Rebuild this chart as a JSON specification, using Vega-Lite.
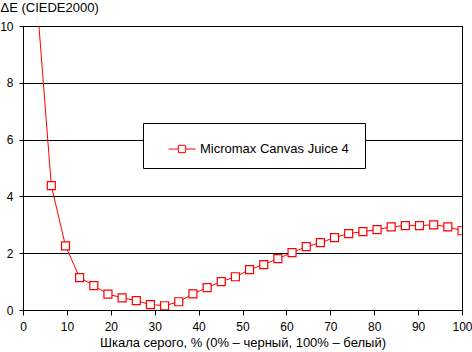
{
  "$schema": "https://vega.github.io/schema/vega-lite/v6.json",
  "width": 439,
  "height": 284,
  "autosize": {"type": "none"},
  "padding": {"left": 23, "top": 26, "right": 10, "bottom": 42},
  "background": "white",
  "config": {
    "font": "Liberation Sans",
    "view": {"stroke": "black", "strokeWidth": 1},
    "axis": {
      "labelFont": "Liberation Sans",
      "labelFontSize": 12,
      "labelColor": "black",
      "titleFont": "Liberation Sans",
      "titleFontSize": 13,
      "titleFontWeight": "normal",
      "titleColor": "black",
      "domainColor": "black",
      "tickColor": "black",
      "gridColor": "black",
      "gridOpacity": 1,
      "domainWidth": 1,
      "tickWidth": 1
    },
    "legend": {
      "orient": "none",
      "legendX": 120,
      "legendY": 97,
      "fillColor": "white",
      "strokeColor": "black",
      "padding": 12,
      "labelFont": "Liberation Sans",
      "labelFontSize": 13,
      "labelColor": "black",
      "labelOffset": 4,
      "symbolOffset": 13,
      "symbolType": "M-1,0H-0.27M0.27,0H1M-0.27,-0.27H0.27V0.27H-0.27Z",
      "symbolSize": 729,
      "symbolStrokeColor": "red",
      "symbolFillColor": "white",
      "symbolStrokeWidth": 1,
      "titleOrient": "right",
      "titlePadding": 4
    }
  },
  "data": {
    "values": [
      {"x": 3.23, "y": 10.8, "s": "Micromax Canvas Juice 4"},
      {"x": 6.45, "y": 4.38, "s": "Micromax Canvas Juice 4"},
      {"x": 9.68, "y": 2.26, "s": "Micromax Canvas Juice 4"},
      {"x": 12.9, "y": 1.14, "s": "Micromax Canvas Juice 4"},
      {"x": 16.13, "y": 0.86, "s": "Micromax Canvas Juice 4"},
      {"x": 19.35, "y": 0.56, "s": "Micromax Canvas Juice 4"},
      {"x": 22.58, "y": 0.43, "s": "Micromax Canvas Juice 4"},
      {"x": 25.81, "y": 0.33, "s": "Micromax Canvas Juice 4"},
      {"x": 29.03, "y": 0.19, "s": "Micromax Canvas Juice 4"},
      {"x": 32.26, "y": 0.15, "s": "Micromax Canvas Juice 4"},
      {"x": 35.48, "y": 0.29, "s": "Micromax Canvas Juice 4"},
      {"x": 38.71, "y": 0.57, "s": "Micromax Canvas Juice 4"},
      {"x": 41.94, "y": 0.79, "s": "Micromax Canvas Juice 4"},
      {"x": 45.16, "y": 1.0, "s": "Micromax Canvas Juice 4"},
      {"x": 48.39, "y": 1.17, "s": "Micromax Canvas Juice 4"},
      {"x": 51.61, "y": 1.42, "s": "Micromax Canvas Juice 4"},
      {"x": 54.84, "y": 1.6, "s": "Micromax Canvas Juice 4"},
      {"x": 58.06, "y": 1.81, "s": "Micromax Canvas Juice 4"},
      {"x": 61.29, "y": 2.02, "s": "Micromax Canvas Juice 4"},
      {"x": 64.52, "y": 2.23, "s": "Micromax Canvas Juice 4"},
      {"x": 67.74, "y": 2.37, "s": "Micromax Canvas Juice 4"},
      {"x": 70.97, "y": 2.55, "s": "Micromax Canvas Juice 4"},
      {"x": 74.19, "y": 2.69, "s": "Micromax Canvas Juice 4"},
      {"x": 77.42, "y": 2.76, "s": "Micromax Canvas Juice 4"},
      {"x": 80.65, "y": 2.83, "s": "Micromax Canvas Juice 4"},
      {"x": 83.87, "y": 2.93, "s": "Micromax Canvas Juice 4"},
      {"x": 87.1, "y": 2.97, "s": "Micromax Canvas Juice 4"},
      {"x": 90.32, "y": 2.97, "s": "Micromax Canvas Juice 4"},
      {"x": 93.55, "y": 3.0, "s": "Micromax Canvas Juice 4"},
      {"x": 96.77, "y": 2.93, "s": "Micromax Canvas Juice 4"},
      {"x": 100, "y": 2.79, "s": "Micromax Canvas Juice 4"}
    ]
  },
  "encoding": {
    "x": {
      "field": "x",
      "type": "quantitative",
      "scale": {"domain": [0, 100], "nice": false, "zero": false},
      "axis": {
        "values": [0, 10, 20, 30, 40, 50, 60, 70, 80, 90, 100],
        "grid": false,
        "tickSize": 5,
        "labelPadding": 6,
        "labelFlush": false,
        "title": "Шкала серого, % (0% – черный, 100% – белый)",
        "titlePadding": 4
      }
    },
    "y": {
      "field": "y",
      "type": "quantitative",
      "scale": {"domain": [0, 10], "nice": false},
      "axis": {
        "values": [0, 2, 4, 6, 8, 10],
        "grid": true,
        "tickSize": 4,
        "labelPadding": 6,
        "labelFlush": false,
        "title": "ΔE (CIEDE2000)",
        "titleAngle": 0,
        "titleAlign": "left",
        "titleBaseline": "top",
        "titleX": -23,
        "titleY": -25
      }
    }
  },
  "layer": [
    {
      "mark": {"type": "line", "clip": true, "strokeWidth": 1},
      "encoding": {
        "color": {
          "field": "s",
          "type": "nominal",
          "scale": {"range": ["red"]},
          "legend": {"title": " "}
        }
      }
    },
    {
      "mark": {"type": "point", "shape": "square", "clip": true, "size": 64, "filled": true, "fill": "white", "stroke": "red", "strokeWidth": 1.2, "opacity": 1}
    }
  ]
}
